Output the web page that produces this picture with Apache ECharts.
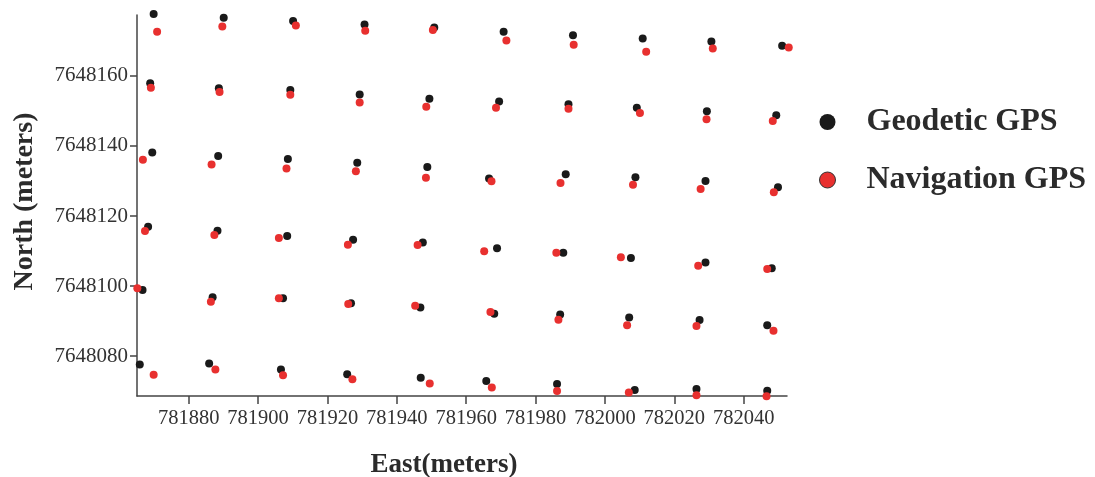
<!DOCTYPE html>
<html>
<head>
<meta charset="utf-8">
<script src="https://cdn.jsdelivr.net/npm/echarts@6/dist/echarts.min.js"></script>
<style>
html,body{margin:0;padding:0;background:#fff;}
#chart{width:1095px;height:477px;}
</style>
</head>
<body>
<div id="chart"></div>
<script>
// Tick labels
var xTicks = [781880, 781900, 781920, 781940, 781960, 781980, 782000, 782020, 782040];
var yTicks = [7648080, 7648100, 7648120, 7648140, 7648160];

// Geodetic GPS points (East, North), row by row from top
var geodeticEast = [
  781869.9, 781890.1, 781910.1, 781930.7, 781950.8, 781970.8, 781990.8, 782010.9, 782030.7, 782051.1,
  781868.9, 781888.7, 781909.3, 781929.3, 781949.4, 781969.5, 781989.5, 782009.2, 782029.4, 782049.4,
  781869.5, 781888.5, 781908.6, 781928.6, 781948.8, 781966.6, 781988.7, 782008.8, 782029.0, 782049.9,
  781868.3, 781888.3, 781908.4, 781927.4, 781947.5, 781968.9, 781988.0, 782007.5, 782029.0, 782048.1,
  781866.7, 781886.9, 781907.2, 781926.8, 781946.8, 781968.1, 781987.1, 782007.0, 782027.3, 782046.8,
  781865.9, 781885.9, 781906.6, 781925.7, 781946.9, 781965.8, 781986.2, 782008.6, 782026.4, 782046.8
];
var geodeticNorth = [
  7648177.7, 7648176.6, 7648175.7, 7648174.7, 7648173.8, 7648172.6, 7648171.6, 7648170.7, 7648169.8, 7648168.6,
  7648157.9, 7648156.5, 7648156.0, 7648154.7, 7648153.5, 7648152.7, 7648151.9, 7648150.9, 7648149.9, 7648148.8,
  7648138.1, 7648137.1, 7648136.3, 7648135.2, 7648134.0, 7648130.7, 7648131.9, 7648131.1, 7648130.0, 7648128.2,
  7648116.9, 7648115.8, 7648114.3, 7648113.2, 7648112.4, 7648110.8, 7648109.5, 7648108.0, 7648106.7, 7648105.1,
  7648098.9, 7648096.8, 7648096.5, 7648095.1, 7648093.9, 7648092.1, 7648091.9, 7648091.0, 7648090.3, 7648088.8,
  7648077.6, 7648077.9, 7648076.2, 7648074.8, 7648073.8, 7648072.9, 7648072.0, 7648070.3, 7648070.6, 7648070.1
];

// Navigation GPS points (East, North)
var navigationEast = [
  781870.9, 781889.7, 781910.9, 781930.9, 781950.4, 781971.6, 781991.0, 782011.9, 782031.1, 782053.0,
  781869.1, 781888.9, 781909.3, 781929.3, 781948.5, 781968.6, 781989.5, 782010.1, 782029.3, 782048.4,
  781866.8, 781886.6, 781908.2, 781928.2, 781948.4, 781967.3, 781987.2, 782008.1, 782027.6, 782048.7,
  781867.4, 781887.4, 781906.0, 781925.9, 781946.0, 781965.2, 781986.0, 782004.6, 782026.9, 782046.8,
  781865.2, 781886.4, 781906.0, 781926.0, 781945.3, 781967.0, 781986.6, 782006.4, 782026.4, 782048.6,
  781869.9, 781887.7, 781907.2, 781927.2, 781949.5, 781967.4, 781986.2, 782006.9, 782026.4, 782046.6
];
var navigationNorth = [
  7648172.6, 7648174.1, 7648174.4, 7648172.9, 7648173.1, 7648170.1, 7648168.9, 7648166.9, 7648167.8, 7648168.1,
  7648156.6, 7648155.4, 7648154.6, 7648152.4, 7648151.2, 7648150.9, 7648150.6, 7648149.4, 7648147.6, 7648147.1,
  7648136.1, 7648134.7, 7648133.6, 7648132.8, 7648130.9, 7648129.9, 7648129.4, 7648128.9, 7648127.7, 7648126.8,
  7648115.7, 7648114.6, 7648113.7, 7648111.8, 7648111.7, 7648109.9, 7648109.5, 7648108.2, 7648105.8, 7648104.9,
  7648099.4, 7648095.5, 7648096.5, 7648094.9, 7648094.4, 7648092.6, 7648090.4, 7648088.8, 7648088.6, 7648087.2,
  7648074.7, 7648076.2, 7648074.5, 7648073.4, 7648072.2, 7648071.0, 7648070.0, 7648069.6, 7648068.8, 7648068.5
];

function pairs(xs, ys) {
  var out = [];
  for (var i = 0; i < xs.length; i++) out.push([xs[i], ys[i]]);
  return out;
}
function plain(v) { return String(Math.round(v)); }

var serif = '"Liberation Serif", "Times New Roman", serif';
var chart = echarts.init(document.getElementById('chart'), null, {renderer: 'canvas'});
chart.setOption({
  backgroundColor: '#ffffff',
  animation: false,
  grid: {left: 137, right: 308, top: 15, bottom: 81, containLabel: false, outerBoundsMode: 'none'},
  legend: {
    orient: 'vertical',
    left: 814,
    top: 101,
    itemWidth: 16,
    itemHeight: 16,
    itemGap: 26,
    icon: 'circle',
    textStyle: {
      fontFamily: serif, fontWeight: 'bold', fontSize: 32, color: '#2b2b2b',
      lineHeight: 32, padding: [0, 0, 0, 26]
    },
    data: [
      {name: 'Geodetic GPS', itemStyle: {color: '#1a1a1a', opacity: 1, borderColor: '#1a1a1a', borderWidth: 0}},
      {name: 'Navigation GPS', itemStyle: {color: '#e8302f', opacity: 1, borderColor: '#333', borderWidth: 1}}
    ]
  },
  xAxis: {
    type: 'value',
    min: 781865.1,
    max: 782052.5,
    name: 'East(meters)',
    nameLocation: 'middle',
    nameGap: 56,
    nameTextStyle: {fontFamily: serif, fontWeight: 'bold', fontSize: 27, color: '#2b2b2b', padding: [0, 36, 0, 0]},
    axisLine: {show: true, lineStyle: {color: '#444', width: 1.5}},
    axisTick: {show: true, length: 8, customValues: xTicks, lineStyle: {color: '#444', width: 1.5}},
    axisLabel: {customValues: xTicks, formatter: plain, fontFamily: serif, fontSize: 20.5, color: '#333', margin: 12},
    splitLine: {show: false}
  },
  yAxis: {
    type: 'value',
    min: 7648068.6,
    max: 7648177.4,
    name: 'North (meters)',
    nameLocation: 'middle',
    nameGap: 98,
    nameRotate: 90,
    nameTextStyle: {fontFamily: serif, fontWeight: 'bold', fontSize: 28, color: '#2b2b2b', padding: [0, 0, 0, 8]},
    axisLine: {show: true, lineStyle: {color: '#444', width: 1.5}},
    axisTick: {show: true, length: 7, customValues: yTicks, lineStyle: {color: '#444', width: 1.5}},
    axisLabel: {customValues: yTicks, formatter: plain, fontFamily: serif, fontSize: 21, color: '#333', margin: 9},
    splitLine: {show: false}
  },
  series: [
    {
      name: 'Geodetic GPS',
      type: 'scatter',
      clip: false,
      symbol: 'circle',
      symbolSize: 8,
      itemStyle: {color: '#1a1a1a', opacity: 1},
      data: pairs(geodeticEast, geodeticNorth)
    },
    {
      name: 'Navigation GPS',
      type: 'scatter',
      clip: false,
      symbol: 'circle',
      symbolSize: 8,
      itemStyle: {color: '#e8302f', opacity: 1},
      data: pairs(navigationEast, navigationNorth)
    }
  ]
});
</script>
</body>
</html>
